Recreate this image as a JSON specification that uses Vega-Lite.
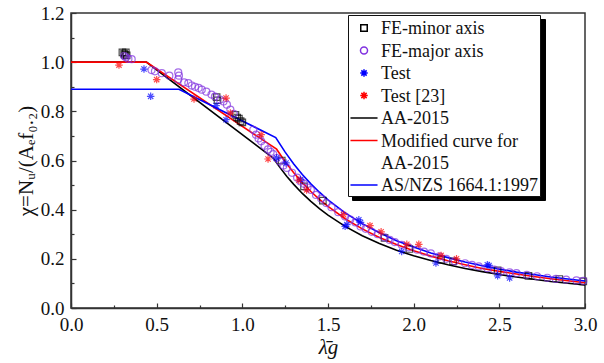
{
  "$schema": "https://vega.github.io/schema/vega-lite/v6.json",
  "width": 514,
  "height": 295,
  "autosize": {"type": "none"},
  "padding": {"left": 71, "top": 13, "right": 19, "bottom": 55},
  "config": {
    "font": "Liberation Serif",
    "view": {"stroke": "#333333", "strokeWidth": 1.5},
    "axis": {"domainColor": "#333333", "domainWidth": 1.5, "tickColor": "#333333", "tickWidth": 1.2, "labelColor": "#111111", "titleColor": "#111111", "grid": false, "labelFont": "Liberation Serif", "titleFont": "Liberation Serif"}
  },
  "data": {"values": [
    {"series": "AA-2015", "x": 0, "y": 1.0},
    {"series": "AA-2015", "x": 0.44, "y": 1.0},
    {"series": "AA-2015", "x": 1.18, "y": 0.61},
    {"series": "AA-2015", "x": 1.22, "y": 0.571},
    {"series": "AA-2015", "x": 1.26, "y": 0.535},
    {"series": "AA-2015", "x": 1.3, "y": 0.503},
    {"series": "AA-2015", "x": 1.35, "y": 0.466},
    {"series": "AA-2015", "x": 1.4, "y": 0.434},
    {"series": "AA-2015", "x": 1.45, "y": 0.404},
    {"series": "AA-2015", "x": 1.5, "y": 0.378},
    {"series": "AA-2015", "x": 1.6, "y": 0.332},
    {"series": "AA-2015", "x": 1.7, "y": 0.294},
    {"series": "AA-2015", "x": 1.8, "y": 0.262},
    {"series": "AA-2015", "x": 1.9, "y": 0.235},
    {"series": "AA-2015", "x": 2.0, "y": 0.2125},
    {"series": "AA-2015", "x": 2.1, "y": 0.193},
    {"series": "AA-2015", "x": 2.2, "y": 0.176},
    {"series": "AA-2015", "x": 2.3, "y": 0.161},
    {"series": "AA-2015", "x": 2.4, "y": 0.148},
    {"series": "AA-2015", "x": 2.5, "y": 0.136},
    {"series": "AA-2015", "x": 2.6, "y": 0.126},
    {"series": "AA-2015", "x": 2.7, "y": 0.117},
    {"series": "AA-2015", "x": 2.8, "y": 0.108},
    {"series": "AA-2015", "x": 2.9, "y": 0.101},
    {"series": "AA-2015", "x": 3.0, "y": 0.094},
    {"series": "Modified curve for AA-2015", "x": 0, "y": 1.0},
    {"series": "Modified curve for AA-2015", "x": 0.44, "y": 1.0},
    {"series": "Modified curve for AA-2015", "x": 1.2, "y": 0.646},
    {"series": "Modified curve for AA-2015", "x": 1.25, "y": 0.595},
    {"series": "Modified curve for AA-2015", "x": 1.3, "y": 0.55},
    {"series": "Modified curve for AA-2015", "x": 1.35, "y": 0.51},
    {"series": "Modified curve for AA-2015", "x": 1.4, "y": 0.474},
    {"series": "Modified curve for AA-2015", "x": 1.45, "y": 0.442},
    {"series": "Modified curve for AA-2015", "x": 1.5, "y": 0.413},
    {"series": "Modified curve for AA-2015", "x": 1.6, "y": 0.363},
    {"series": "Modified curve for AA-2015", "x": 1.7, "y": 0.322},
    {"series": "Modified curve for AA-2015", "x": 1.8, "y": 0.287},
    {"series": "Modified curve for AA-2015", "x": 1.9, "y": 0.258},
    {"series": "Modified curve for AA-2015", "x": 2.0, "y": 0.233},
    {"series": "Modified curve for AA-2015", "x": 2.1, "y": 0.211},
    {"series": "Modified curve for AA-2015", "x": 2.2, "y": 0.192},
    {"series": "Modified curve for AA-2015", "x": 2.3, "y": 0.176},
    {"series": "Modified curve for AA-2015", "x": 2.4, "y": 0.161},
    {"series": "Modified curve for AA-2015", "x": 2.5, "y": 0.149},
    {"series": "Modified curve for AA-2015", "x": 2.6, "y": 0.138},
    {"series": "Modified curve for AA-2015", "x": 2.7, "y": 0.128},
    {"series": "Modified curve for AA-2015", "x": 2.8, "y": 0.119},
    {"series": "Modified curve for AA-2015", "x": 2.9, "y": 0.111},
    {"series": "Modified curve for AA-2015", "x": 3.0, "y": 0.103},
    {"series": "AS/NZS 1664.1:1997", "x": 0, "y": 0.89},
    {"series": "AS/NZS 1664.1:1997", "x": 0.63, "y": 0.89},
    {"series": "AS/NZS 1664.1:1997", "x": 1.195, "y": 0.693},
    {"series": "AS/NZS 1664.1:1997", "x": 1.25, "y": 0.634},
    {"series": "AS/NZS 1664.1:1997", "x": 1.3, "y": 0.586},
    {"series": "AS/NZS 1664.1:1997", "x": 1.35, "y": 0.543},
    {"series": "AS/NZS 1664.1:1997", "x": 1.4, "y": 0.505},
    {"series": "AS/NZS 1664.1:1997", "x": 1.45, "y": 0.471},
    {"series": "AS/NZS 1664.1:1997", "x": 1.5, "y": 0.44},
    {"series": "AS/NZS 1664.1:1997", "x": 1.6, "y": 0.387},
    {"series": "AS/NZS 1664.1:1997", "x": 1.7, "y": 0.343},
    {"series": "AS/NZS 1664.1:1997", "x": 1.8, "y": 0.306},
    {"series": "AS/NZS 1664.1:1997", "x": 1.9, "y": 0.274},
    {"series": "AS/NZS 1664.1:1997", "x": 2.0, "y": 0.248},
    {"series": "AS/NZS 1664.1:1997", "x": 2.1, "y": 0.224},
    {"series": "AS/NZS 1664.1:1997", "x": 2.2, "y": 0.205},
    {"series": "AS/NZS 1664.1:1997", "x": 2.3, "y": 0.187},
    {"series": "AS/NZS 1664.1:1997", "x": 2.4, "y": 0.172},
    {"series": "AS/NZS 1664.1:1997", "x": 2.5, "y": 0.158},
    {"series": "AS/NZS 1664.1:1997", "x": 2.6, "y": 0.146},
    {"series": "AS/NZS 1664.1:1997", "x": 2.7, "y": 0.136},
    {"series": "AS/NZS 1664.1:1997", "x": 2.8, "y": 0.126},
    {"series": "AS/NZS 1664.1:1997", "x": 2.9, "y": 0.118},
    {"series": "AS/NZS 1664.1:1997", "x": 3.0, "y": 0.11},

    {"series": "FE-minor axis", "x": 0.3, "y": 1.04},
    {"series": "FE-minor axis", "x": 0.31, "y": 1.035},
    {"series": "FE-minor axis", "x": 0.315, "y": 1.03},
    {"series": "FE-minor axis", "x": 0.32, "y": 1.04},
    {"series": "FE-minor axis", "x": 0.325, "y": 1.028},
    {"series": "FE-minor axis", "x": 0.85, "y": 0.858},
    {"series": "FE-minor axis", "x": 0.855, "y": 0.845},
    {"series": "FE-minor axis", "x": 0.96, "y": 0.786},
    {"series": "FE-minor axis", "x": 0.97, "y": 0.775},
    {"series": "FE-minor axis", "x": 0.98, "y": 0.77},
    {"series": "FE-minor axis", "x": 0.99, "y": 0.76},
    {"series": "FE-minor axis", "x": 1.0, "y": 0.755},
    {"series": "FE-minor axis", "x": 1.23, "y": 0.6},
    {"series": "FE-minor axis", "x": 1.36, "y": 0.495},
    {"series": "FE-minor axis", "x": 1.47, "y": 0.437},
    {"series": "FE-minor axis", "x": 1.83, "y": 0.285},
    {"series": "FE-minor axis", "x": 1.975, "y": 0.24},
    {"series": "FE-minor axis", "x": 2.16, "y": 0.196},
    {"series": "FE-minor axis", "x": 2.23, "y": 0.19},
    {"series": "FE-minor axis", "x": 2.49, "y": 0.153},
    {"series": "FE-minor axis", "x": 2.67, "y": 0.131},
    {"series": "FE-minor axis", "x": 2.85, "y": 0.118},
    {"series": "FE-minor axis", "x": 2.99, "y": 0.108},

    {"series": "FE-major axis", "x": 0.31, "y": 1.025},
    {"series": "FE-major axis", "x": 0.32, "y": 1.02},
    {"series": "FE-major axis", "x": 0.335, "y": 1.013},
    {"series": "FE-major axis", "x": 0.354, "y": 1.012},
    {"series": "FE-major axis", "x": 0.47, "y": 0.968},
    {"series": "FE-major axis", "x": 0.49, "y": 0.963},
    {"series": "FE-major axis", "x": 0.53, "y": 0.955},
    {"series": "FE-major axis", "x": 0.574, "y": 0.945},
    {"series": "FE-major axis", "x": 0.626, "y": 0.958},
    {"series": "FE-major axis", "x": 0.63, "y": 0.945},
    {"series": "FE-major axis", "x": 0.626, "y": 0.93},
    {"series": "FE-major axis", "x": 0.66, "y": 0.918},
    {"series": "FE-major axis", "x": 0.685, "y": 0.915},
    {"series": "FE-major axis", "x": 0.705, "y": 0.905},
    {"series": "FE-major axis", "x": 0.724, "y": 0.9},
    {"series": "FE-major axis", "x": 0.745, "y": 0.895},
    {"series": "FE-major axis", "x": 0.763, "y": 0.888},
    {"series": "FE-major axis", "x": 0.79, "y": 0.88},
    {"series": "FE-major axis", "x": 0.82, "y": 0.868},
    {"series": "FE-major axis", "x": 0.84, "y": 0.86},
    {"series": "FE-major axis", "x": 0.87, "y": 0.848},
    {"series": "FE-major axis", "x": 0.89, "y": 0.84},
    {"series": "FE-major axis", "x": 0.91, "y": 0.827},
    {"series": "FE-major axis", "x": 0.93, "y": 0.807},
    {"series": "FE-major axis", "x": 0.95, "y": 0.79},
    {"series": "FE-major axis", "x": 1.064, "y": 0.725},
    {"series": "FE-major axis", "x": 1.08, "y": 0.705},
    {"series": "FE-major axis", "x": 1.095, "y": 0.69},
    {"series": "FE-major axis", "x": 1.11, "y": 0.678},
    {"series": "FE-major axis", "x": 1.13, "y": 0.66},
    {"series": "FE-major axis", "x": 1.15, "y": 0.645},
    {"series": "FE-major axis", "x": 1.165, "y": 0.635},
    {"series": "FE-major axis", "x": 1.18, "y": 0.626},
    {"series": "FE-major axis", "x": 1.2, "y": 0.61},
    {"series": "FE-major axis", "x": 1.22, "y": 0.596},
    {"series": "FE-major axis", "x": 1.24, "y": 0.58},
    {"series": "FE-major axis", "x": 1.26, "y": 0.57},
    {"series": "FE-major axis", "x": 1.29, "y": 0.55},
    {"series": "FE-major axis", "x": 1.32, "y": 0.53},
    {"series": "FE-major axis", "x": 1.34, "y": 0.515},
    {"series": "FE-major axis", "x": 1.36, "y": 0.505},
    {"series": "FE-major axis", "x": 1.38, "y": 0.49},
    {"series": "FE-major axis", "x": 1.4, "y": 0.48},
    {"series": "FE-major axis", "x": 1.43, "y": 0.46},
    {"series": "FE-major axis", "x": 1.46, "y": 0.445},
    {"series": "FE-major axis", "x": 1.49, "y": 0.427},
    {"series": "FE-major axis", "x": 1.52, "y": 0.41},
    {"series": "FE-major axis", "x": 1.56, "y": 0.39},
    {"series": "FE-major axis", "x": 1.6, "y": 0.372},
    {"series": "FE-major axis", "x": 1.63, "y": 0.36},
    {"series": "FE-major axis", "x": 1.66, "y": 0.348},
    {"series": "FE-major axis", "x": 1.69, "y": 0.332},
    {"series": "FE-major axis", "x": 1.72, "y": 0.322},
    {"series": "FE-major axis", "x": 1.755, "y": 0.31},
    {"series": "FE-major axis", "x": 1.79, "y": 0.3},
    {"series": "FE-major axis", "x": 1.83, "y": 0.287},
    {"series": "FE-major axis", "x": 1.86, "y": 0.277},
    {"series": "FE-major axis", "x": 1.89, "y": 0.268},
    {"series": "FE-major axis", "x": 1.93, "y": 0.257},
    {"series": "FE-major axis", "x": 1.97, "y": 0.247},
    {"series": "FE-major axis", "x": 2.02, "y": 0.237},
    {"series": "FE-major axis", "x": 2.06, "y": 0.229},
    {"series": "FE-major axis", "x": 2.1, "y": 0.222},
    {"series": "FE-major axis", "x": 2.15, "y": 0.21},
    {"series": "FE-major axis", "x": 2.19, "y": 0.2},
    {"series": "FE-major axis", "x": 2.24, "y": 0.19},
    {"series": "FE-major axis", "x": 2.3, "y": 0.182},
    {"series": "FE-major axis", "x": 2.34, "y": 0.175},
    {"series": "FE-major axis", "x": 2.38, "y": 0.169},
    {"series": "FE-major axis", "x": 2.43, "y": 0.162},
    {"series": "FE-major axis", "x": 2.47, "y": 0.156},
    {"series": "FE-major axis", "x": 2.51, "y": 0.15},
    {"series": "FE-major axis", "x": 2.56, "y": 0.145},
    {"series": "FE-major axis", "x": 2.6, "y": 0.142},
    {"series": "FE-major axis", "x": 2.66, "y": 0.135},
    {"series": "FE-major axis", "x": 2.72, "y": 0.129},
    {"series": "FE-major axis", "x": 2.78, "y": 0.123},
    {"series": "FE-major axis", "x": 2.83, "y": 0.118},
    {"series": "FE-major axis", "x": 2.89, "y": 0.115},
    {"series": "FE-major axis", "x": 2.95, "y": 0.112},
    {"series": "FE-major axis", "x": 2.99, "y": 0.11},

    {"series": "Test", "x": 0.426, "y": 0.972},
    {"series": "Test", "x": 0.465, "y": 0.861},
    {"series": "Test", "x": 0.847, "y": 0.823},
    {"series": "Test", "x": 0.905, "y": 0.766},
    {"series": "Test", "x": 1.2, "y": 0.61},
    {"series": "Test", "x": 1.255, "y": 0.59},
    {"series": "Test", "x": 1.34, "y": 0.522},
    {"series": "Test", "x": 1.6, "y": 0.332},
    {"series": "Test", "x": 1.61, "y": 0.339},
    {"series": "Test", "x": 1.68, "y": 0.359},
    {"series": "Test", "x": 1.69, "y": 0.348},
    {"series": "Test", "x": 1.93, "y": 0.23},
    {"series": "Test", "x": 2.13, "y": 0.183},
    {"series": "Test", "x": 2.43, "y": 0.176},
    {"series": "Test", "x": 2.44, "y": 0.173},
    {"series": "Test", "x": 2.49, "y": 0.131},
    {"series": "Test", "x": 2.56, "y": 0.122},

    {"series": "Test [23]", "x": 0.28, "y": 0.988},
    {"series": "Test [23]", "x": 0.5, "y": 0.929},
    {"series": "Test [23]", "x": 0.718, "y": 0.85},
    {"series": "Test [23]", "x": 0.905, "y": 0.854},
    {"series": "Test [23]", "x": 0.93, "y": 0.793},
    {"series": "Test [23]", "x": 1.11, "y": 0.705},
    {"series": "Test [23]", "x": 1.15, "y": 0.606},
    {"series": "Test [23]", "x": 1.33, "y": 0.52},
    {"series": "Test [23]", "x": 1.375, "y": 0.48},
    {"series": "Test [23]", "x": 1.59, "y": 0.38},
    {"series": "Test [23]", "x": 1.745, "y": 0.335},
    {"series": "Test [23]", "x": 1.81, "y": 0.31},
    {"series": "Test [23]", "x": 1.96, "y": 0.259},
    {"series": "Test [23]", "x": 2.03, "y": 0.259},
    {"series": "Test [23]", "x": 2.16, "y": 0.214},
    {"series": "Test [23]", "x": 2.25, "y": 0.2}
  ]},
  "encoding": {
    "x": {"field": "x", "type": "quantitative",
      "scale": {"domain": [0, 3], "nice": false, "zero": false},
      "axis": {"values": [0, 0.5, 1, 1.5, 2, 2.5, 3], "format": ".1f", "tickSize": -5, "labelPadding": 12, "labelFontSize": 19, "labelFlush": false,
        "title": "λ̄g", "titleFontSize": 21, "titleFontWeight": "normal", "titleFontStyle": "italic", "titlePadding": 2}},
    "y": {"field": "y", "type": "quantitative",
      "scale": {"domain": [0, 1.2], "nice": false},
      "axis": {"values": [0, 0.2, 0.4, 0.6, 0.8, 1.0, 1.2], "format": ".1f", "tickSize": -5, "labelPadding": 12, "labelFontSize": 19, "labelFlush": false,
        "title": "χ=Nᵤ/(Aₑf₀.₂)", "titleFontSize": 21, "titleFontWeight": "normal", "titlePadding": 4}},
    "color": {"field": "series", "type": "nominal",
      "scale": {"domain": ["FE-minor axis", "FE-major axis", "Test", "Test [23]", "AA-2015", "Modified curve for AA-2015", "AS/NZS 1664.1:1997"],
        "range": ["#000000", "#8031E0", "#0000FF", "#FF0000", "#000000", "#FF0000", "#0000FF"]},
      "legend": {"title": null, "orient": "none", "legendX": 277, "legendY": 2, "direction": "vertical", "zindex": 2,
        "strokeColor": "#111111", "fillColor": "white", "padding": 1, "symbolOffset": 3, "symbolSize": 484, "symbolStrokeWidth": 1.5,
        "labelFont": "Liberation Serif", "labelFontSize": 18, "labelColor": "#111111", "labelOffset": 5, "labelLimit": 300, "rowPadding": 0.5,
        "labelBaseline": "alphabetic",
        "labelExpr": "datum.label == 'Modified curve for AA-2015' ? ['Modified curve for', ' AA-2015'] : datum.label",
        "encode": {"labels": {"update": {"dy": {"value": 6}, "lineHeight": {"value": 22}}}}}}
  },
  "resolve": {"axis": {"x": "independent", "y": "independent"}},
  "layer": [
    {
      "transform": [{"filter": "indexof(['AA-2015','Modified curve for AA-2015','AS/NZS 1664.1:1997'], datum.series) >= 0"}],
      "mark": {"type": "line", "strokeWidth": 1.6, "interpolate": "linear"}
    },
    {
      "transform": [{"filter": "indexof(['AA-2015','Modified curve for AA-2015','AS/NZS 1664.1:1997'], datum.series) < 0"}],
      "mark": {"type": "point", "filled": false, "size": 484, "strokeWidth": 1.2},
      "encoding": {
        "x": {"field": "x", "type": "quantitative",
          "axis": {"orient": "bottom", "values": [0.25, 0.75, 1.25, 1.75, 2.25, 2.75], "labels": false, "domain": false, "tickSize": -3, "title": null}},
        "y": {"field": "y", "type": "quantitative",
          "axis": {"orient": "left", "values": [0.1, 0.3, 0.5, 0.7, 0.9, 1.1], "labels": false, "domain": false, "tickSize": -3, "title": null}},
        "fill": {"field": "x", "type": "quantitative",
          "scale": {"domain": [0, 3], "range": ["rgba(0,0,0,0)", "rgba(0,0,0,0)"]},
          "legend": {"type": "gradient", "title": null, "orient": "none", "legendX": 281, "legendY": 6, "direction": "vertical", "zindex": 1,
            "gradientLength": 181, "gradientThickness": 193, "gradientStrokeWidth": 0,
            "strokeColor": "#000000", "fillColor": "#000000", "padding": 0,
            "labelExpr": "''", "labelOffset": 0, "labelFontSize": 1, "labelOpacity": 0, "values": [0, 3]}},
        "shape": {"field": "series", "type": "nominal",
          "scale": {"domain": ["FE-minor axis", "FE-major axis", "Test", "Test [23]", "AA-2015", "Modified curve for AA-2015", "AS/NZS 1664.1:1997"],
            "range": ["M-0.295,-0.295H0.295V0.295H-0.295Z", "M-0.32,0A0.32,0.32,0,1,0,0.32,0A0.32,0.32,0,1,0,-0.32,0Z", "M-0.34,0H0.34M0,-0.34V0.34M-0.24,-0.24L0.24,0.24M-0.24,0.24L0.24,-0.24", "M-0.34,0H0.34M0,-0.34V0.34M-0.24,-0.24L0.24,0.24M-0.24,0.24L0.24,-0.24", "M-1.23,0H1.23", "M-1.23,0H1.23", "M-1.23,0H1.23"]},
          "legend": {"title": null, "orient": "none", "legendX": 277, "legendY": 2, "direction": "vertical", "zindex": 2,
            "strokeColor": "#111111", "fillColor": "white", "padding": 1, "symbolOffset": 3, "symbolSize": 484, "symbolStrokeWidth": 1.5,
            "labelFont": "Liberation Serif", "labelFontSize": 18, "labelColor": "#111111", "labelOffset": 5, "labelLimit": 300, "rowPadding": 0.5,
            "labelBaseline": "alphabetic",
            "labelExpr": "datum.label == 'Modified curve for AA-2015' ? ['Modified curve for', ' AA-2015'] : datum.label",
            "encode": {"labels": {"update": {"dy": {"value": 6}, "lineHeight": {"value": 22}}}}}}
      }
    }
  ]
}
